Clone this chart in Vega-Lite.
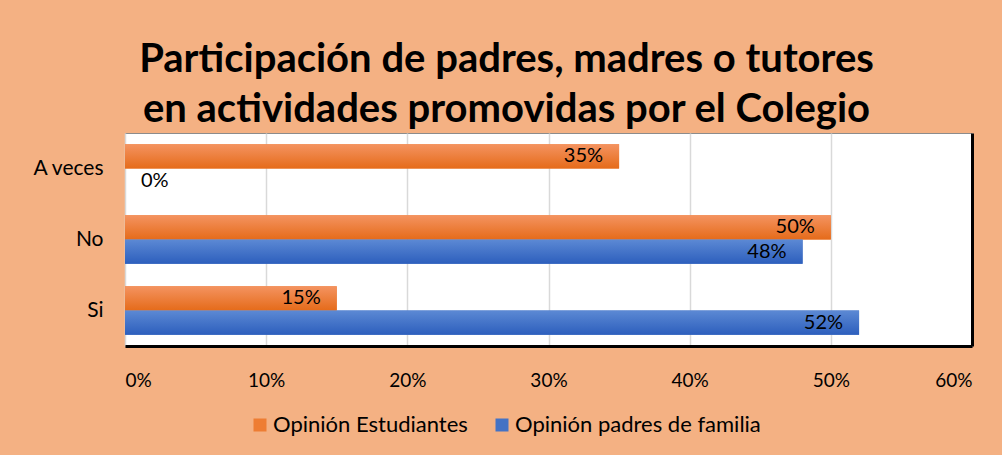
{
  "$schema": "https://vega.github.io/schema/vega-lite/v6.json",
  "autosize": {"type": "none"},
  "width": 847,
  "height": 213,
  "padding": {"left": 125, "top": 133, "right": 30, "bottom": 109},
  "background": "#F4B183",
  "config": {
    "font": "Lato",
    "view": {"fill": "white", "stroke": "#8C8C8C", "strokeWidth": 1}
  },
  "title": {
    "text": ["Participación de padres, madres o tutores", "en actividades promovidas por el Colegio"],
    "font": "Lato",
    "fontSize": 40,
    "fontWeight": "bold",
    "color": "black",
    "lineHeight": 50,
    "anchor": "middle",
    "dx": -42,
    "dy": 40,
    "offset": 3,
    "baseline": "bottom"
  },
  "data": {
    "values": [
      {"Categoria": "A veces", "Serie": "Opinión Estudiantes", "Valor": 0.35},
      {"Categoria": "A veces", "Serie": "Opinión padres de familia", "Valor": 0.0},
      {"Categoria": "No", "Serie": "Opinión Estudiantes", "Valor": 0.50},
      {"Categoria": "No", "Serie": "Opinión padres de familia", "Valor": 0.48},
      {"Categoria": "Si", "Serie": "Opinión Estudiantes", "Valor": 0.15},
      {"Categoria": "Si", "Serie": "Opinión padres de familia", "Valor": 0.52}
    ]
  },
  "encoding": {
    "y": {
      "field": "Categoria",
      "type": "nominal",
      "sort": ["A veces", "No", "Si"],
      "scale": {"paddingInner": 0.32, "paddingOuter": 0.16},
      "axis": null
    },
    "yOffset": {
      "field": "Serie",
      "type": "nominal",
      "sort": ["Opinión Estudiantes", "Opinión padres de familia"],
      "scale": {"paddingInner": 0, "paddingOuter": 0}
    },
    "x": {
      "field": "Valor",
      "type": "quantitative",
      "scale": {"domain": [0, 0.6], "nice": false},
      "axis": {"title": null, "format": ".0%", "values": [0, 0.1, 0.2, 0.3, 0.4, 0.5, 0.6], "labelFontSize": 19, "labelColor": "black", "labelPadding": 25, "ticks": false, "domain": true, "domainColor": "black", "domainWidth": 3, "grid": true, "gridColor": "#D9D9D9", "gridWidth": 1.5, "labelFont": "Lato"}
    }
  },
  "layer": [
    {
      "mark": {"type": "bar"},
      "encoding": {
        "y": {
          "field": "Categoria",
          "type": "nominal",
          "sort": ["A veces", "No", "Si"],
          "scale": {"paddingInner": 0.32, "paddingOuter": 0.16},
          "axis": {"orient": "left", "title": null, "labelFontSize": 21, "labelColor": "black", "labelPadding": 22, "ticks": false, "domain": false, "grid": false, "labelFont": "Lato"}
        },
        "color": {
          "field": "Serie",
          "type": "nominal",
          "sort": ["Opinión Estudiantes", "Opinión padres de familia"],
          "scale": {
            "domain": ["Opinión Estudiantes", "Opinión padres de familia"],
            "range": ["#EE7D33", "#4472C4"]
          },
          "legend": {
            "title": null,
            "orient": "none",
            "legendX": 124,
            "legendY": 281,
            "direction": "horizontal",
            "symbolType": "square",
            "symbolSize": 169,
            "symbolStrokeWidth": 0,
            "symbolOpacity": 1,
            "labelFontSize": 22,
            "labelColor": "black",
            "labelFont": "Lato",
            "labelOffset": 2,
            "labelLimit": 400,
            "columnPadding": 23
          }
        }
      }
    },
    {
      "transform": [{"filter": "datum.Serie == 'Opinión Estudiantes'"}],
      "mark": {"type": "bar", "color": {"gradient": "linear", "x1": 0, "y1": 0, "x2": 0, "y2": 1, "stops": [{"offset": 0, "color": "#F49360"}, {"offset": 1, "color": "#E56B1A"}]}}
    },
    {
      "transform": [{"filter": "datum.Serie == 'Opinión padres de familia'"}],
      "mark": {"type": "bar", "color": {"gradient": "linear", "x1": 0, "y1": 0, "x2": 0, "y2": 1, "stops": [{"offset": 0, "color": "#5C89D4"}, {"offset": 1, "color": "#2D5FBD"}]}}
    },
    {
      "transform": [{"filter": "datum.Valor > 0"}],
      "mark": {"type": "text", "align": "right", "baseline": "middle", "dx": -16, "fontSize": 20, "color": "black", "font": "Lato"},
      "encoding": {
        "text": {"field": "Valor", "type": "quantitative", "format": ".0%"},
        "y": {
          "field": "Categoria",
          "type": "nominal",
          "sort": ["A veces", "No", "Si"],
          "scale": {"paddingInner": 0.32, "paddingOuter": 0.16},
          "axis": {"orient": "right", "labels": false, "ticks": false, "grid": false, "title": null, "domain": true, "domainColor": "black", "domainWidth": 3}
        }
      }
    },
    {
      "transform": [{"filter": "datum.Valor == 0"}],
      "mark": {"type": "text", "align": "left", "baseline": "middle", "dx": 16, "fontSize": 20, "color": "black", "font": "Lato"},
      "encoding": {
        "text": {"field": "Valor", "type": "quantitative", "format": ".0%"}
      }
    }
  ],
  "resolve": {"axis": {"y": "independent"}}
}
